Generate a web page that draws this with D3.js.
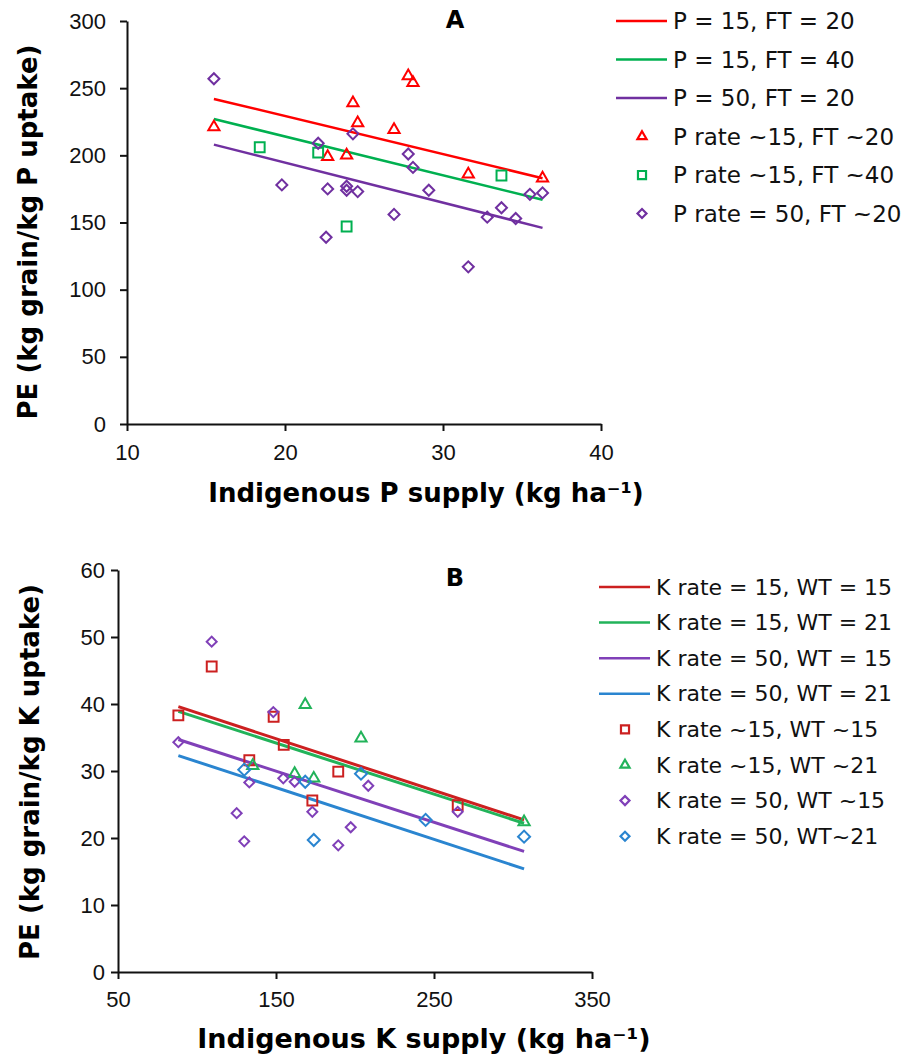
<!DOCTYPE html>
<html>
<head>
<meta charset="utf-8">
<script src="https://cdn.jsdelivr.net/npm/d3@7"></script>
<style>
  body { margin: 0; background: #fff; }
  svg { display: block; font-family: "DejaVu Sans", Verdana, sans-serif; }
</style>
</head>
<body>
<svg id="chart" width="918" height="1061"></svg>
<script>
// ---- panel A: PE vs indigenous P supply ----
const aXTicks = [10, 20, 30, 40];
const aYTicks = [0, 50, 100, 150, 200, 250, 300];

const aP15FT20x = [15.5, 24.3, 24.6, 22.7, 23.9, 26.9, 27.8, 28.1, 31.6, 36.3];
const aP15FT20y = [221, 239, 224, 199, 200, 219, 259, 254, 186, 183];
const aP15FT40x = [18.4, 22.1, 23.9, 33.7];
const aP15FT40y = [206, 202, 147, 185];
const aP50FT20x = [15.5, 22.1, 24.3, 19.8, 22.7, 23.9, 23.9, 24.6, 22.6, 27.8, 28.1, 26.9, 29.1, 32.8, 33.7, 34.6, 35.5, 36.3, 31.6];
const aP50FT20y = [257, 209, 216, 178, 175, 177, 174, 173, 139, 201, 191, 156, 174, 154, 161, 153, 171, 172, 117];

// fitted lines (end points)
const aFitX = [15.5, 36.3];
const aFitP15FT20 = [242, 183];
const aFitP15FT40 = [227, 167];
const aFitP50FT20 = [208, 146];

// ---- panel B: PE vs indigenous K supply ----
const bXTicks = [50, 150, 250, 350];
const bYTicks = [0, 10, 20, 30, 40, 50, 60];

const bK15WT15x = [88.2, 109.3, 148.5, 154.9, 133.1, 189.4, 173.0, 265.0];
const bK15WT15y = [38.3, 45.6, 38.1, 33.9, 31.6, 29.9, 25.6, 24.9];
const bK15WT21x = [168.5, 203.8, 135.3, 161.8, 173.9, 307.0];
const bK15WT21y = [39.9, 34.9, 30.8, 29.6, 28.9, 22.4];
const bK50WT15x = [109.3, 88.2, 148.3, 133.1, 125.1, 129.9, 154.6, 161.8, 173.0, 208.4, 197.3, 189.4, 265.0];
const bK50WT15y = [49.3, 34.3, 38.8, 28.3, 23.7, 19.5, 28.9, 28.4, 23.9, 27.8, 21.6, 18.9, 23.9];
const bK50WT21x = [129.9, 168.5, 203.8, 173.9, 244.7, 307.0];
const bK50WT21y = [30.2, 28.4, 29.6, 19.7, 22.7, 20.2];

const bFitX = [88.2, 307.0];
const bFitK15WT15 = [39.6, 22.7];
const bFitK15WT21 = [38.9, 22.2];
const bFitK50WT15 = [34.7, 18.0];
const bFitK50WT21 = [32.3, 15.4];

const svg = d3.select('#chart');

// diamond = square turned 45deg, like the spreadsheet marker
function marker(g, shape, x, y, size, color, sw) {
    let sym, rot = 0;
    if (shape === 'triangle') sym = d3.symbol(d3.symbolTriangle, size * size * 0.45);
    else if (shape === 'square') sym = d3.symbol(d3.symbolSquare, size * size * 0.8);
    else { sym = d3.symbol(d3.symbolSquare, size * size * 0.5); rot = 45; }
    g.append('path')
        .attr('d', sym())
        .attr('transform', `translate(${x},${y}) rotate(${rot})`)
        .attr('fill', 'none')
        .attr('stroke', color)
        .attr('stroke-width', sw);
}

function drawPanel(p) {
    const g = svg.append('g');
    const x = d3.scaleLinear().domain(p.xDomain).range(p.xRange);
    const y = d3.scaleLinear().domain(p.yDomain).range(p.yRange);

    // axes
    const yAxis = g.append('g')
        .attr('transform', `translate(${p.xRange[0]},0)`)
        .call(d3.axisLeft(y).tickValues(p.yTicks).tickSize(7).tickSizeOuter(0).tickPadding(p.yPad));
    const xAxis = g.append('g')
        .attr('transform', `translate(0,${p.yRange[0]})`)
        .call(d3.axisBottom(x).tickValues(p.xTicks).tickSize(7).tickSizeOuter(0).tickPadding(p.xPad));
    [xAxis, yAxis].forEach(a => {
        a.select('.domain').attr('stroke', '#111').attr('stroke-width', 2);
        a.selectAll('.tick line').attr('stroke', '#111').attr('stroke-width', 2);
        a.selectAll('.tick text').attr('fill', '#111').style('font-size', p.tickFont + 'px');
    });

    // fitted lines
    p.lines.forEach(l => {
        g.append('path')
            .datum(p.fitX.map((v, i) => [v, l.values[i]]))
            .attr('d', d3.line().x(d => x(d[0])).y(d => y(d[1])))
            .attr('stroke', l.color)
            .attr('stroke-width', p.lineWidth)
            .attr('fill', 'none');
    });

    // observed points
    p.points.forEach(s => {
        s.xs.forEach((v, i) => marker(g, s.shape, x(v), y(s.ys[i]), s.size, s.color, 2));
    });

    // titles
    g.append('text')
        .attr('x', p.titlePos[0]).attr('y', p.titlePos[1])
        .attr('text-anchor', 'middle').attr('dominant-baseline', 'central')
        .style('font-size', '24px').style('font-weight', 'bold')
        .text(p.title);
    g.append('text')
        .attr('transform', `translate(${p.yLabelPos[0]},${p.yLabelPos[1]}) rotate(-90)`)
        .attr('text-anchor', 'middle').attr('dominant-baseline', 'central')
        .style('font-size', '26px').style('font-weight', 'bold')
        .text(p.yLabel);
    g.append('text')
        .attr('x', p.xLabelPos[0]).attr('y', p.xLabelPos[1])
        .attr('text-anchor', 'middle')
        .style('font-size', p.xLabelFont + 'px').style('font-weight', 'bold')
        .text(p.xLabel);

    // legend
    const lg = g.append('g');
    let row = 0;
    p.lines.forEach(l => {
        const yy = p.legend.y0 + row * p.legend.step;
        lg.append('line')
            .attr('x1', p.legend.lineX[0]).attr('x2', p.legend.lineX[1])
            .attr('y1', yy).attr('y2', yy)
            .attr('stroke', l.color).attr('stroke-width', 2.5);
        lg.append('text')
            .attr('x', p.legend.textX).attr('y', yy)
            .attr('dominant-baseline', 'central')
            .style('font-size', p.legend.font + 'px').attr('fill', '#111')
            .text(l.name);
        row++;
    });
    p.points.forEach(s => {
        const yy = p.legend.y0 + row * p.legend.step;
        marker(lg, s.shape, p.legend.markX, yy, 9, s.color, 2.2);
        lg.append('text')
            .attr('x', p.legend.textX).attr('y', yy)
            .attr('dominant-baseline', 'central')
            .style('font-size', p.legend.font + 'px').attr('fill', '#111')
            .text(s.name);
        row++;
    });
}

drawPanel({
    xDomain: [10, 40], xRange: [127, 601],
    yDomain: [0, 300], yRange: [424, 21],
    xTicks: aXTicks, yTicks: aYTicks, yPad: 14, xPad: 13, tickFont: 22,
    fitX: aFitX, lineWidth: 2.5,
    lines: [
        {name: 'P = 15, FT = 20', values: aFitP15FT20, color: '#ff0000'},
        {name: 'P = 15, FT = 40', values: aFitP15FT40, color: '#00b050'},
        {name: 'P = 50, FT = 20', values: aFitP50FT20, color: '#7030a0'}
    ],
    points: [
        {name: 'P rate ~15, FT ~20', xs: aP15FT20x, ys: aP15FT20y, shape: 'triangle', color: '#ff0000', size: 11},
        {name: 'P rate ~15, FT ~40', xs: aP15FT40x, ys: aP15FT40y, shape: 'square', color: '#00b050', size: 11},
        {name: 'P rate = 50, FT ~20', xs: aP50FT20x, ys: aP50FT20y, shape: 'diamond', color: '#7030a0', size: 11}
    ],
    title: 'A', titlePos: [455, 20],
    yLabel: 'PE (kg grain/kg P uptake)', yLabelPos: [28, 232],
    xLabel: 'Indigenous P supply (kg ha\u207B\u00B9)', xLabelPos: [426, 502], xLabelFont: 26,
    legend: {y0: 21, step: 38.5, lineX: [616, 667], textX: 673, markX: 642, font: 23}
});

drawPanel({
    xDomain: [50, 350], xRange: [118, 592],
    yDomain: [0, 60], yRange: [972, 570],
    xTicks: bXTicks, yTicks: bYTicks, yPad: 6, xPad: 12, tickFont: 22,
    fitX: bFitX, lineWidth: 3,
    lines: [
        {name: 'K rate = 15, WT = 15', values: bFitK15WT15, color: '#cc2020'},
        {name: 'K rate = 15, WT = 21', values: bFitK15WT21, color: '#22b35a'},
        {name: 'K rate = 50, WT = 15', values: bFitK50WT15, color: '#8040b8'},
        {name: 'K rate = 50, WT = 21', values: bFitK50WT21, color: '#2a85d0'}
    ],
    points: [
        {name: 'K rate ~15, WT ~15', xs: bK15WT15x, ys: bK15WT15y, shape: 'square', color: '#cc2020', size: 11},
        {name: 'K rate ~15, WT ~21', xs: bK15WT21x, ys: bK15WT21y, shape: 'triangle', color: '#22b35a', size: 11},
        {name: 'K rate = 50, WT ~15', xs: bK50WT15x, ys: bK50WT15y, shape: 'diamond', color: '#8040b8', size: 10},
        {name: 'K rate = 50, WT~21', xs: bK50WT21x, ys: bK50WT21y, shape: 'diamond', color: '#2a85d0', size: 12}
    ],
    title: 'B', titlePos: [455, 578],
    yLabel: 'PE (kg grain/kg K uptake)', yLabelPos: [30, 772],
    xLabel: 'Indigenous K supply (kg ha\u207B\u00B9)', xLabelPos: [424, 1048], xLabelFont: 27,
    legend: {y0: 587, step: 35.6, lineX: [599, 650], textX: 656, markX: 625, font: 22}
});
</script>
</body>
</html>
